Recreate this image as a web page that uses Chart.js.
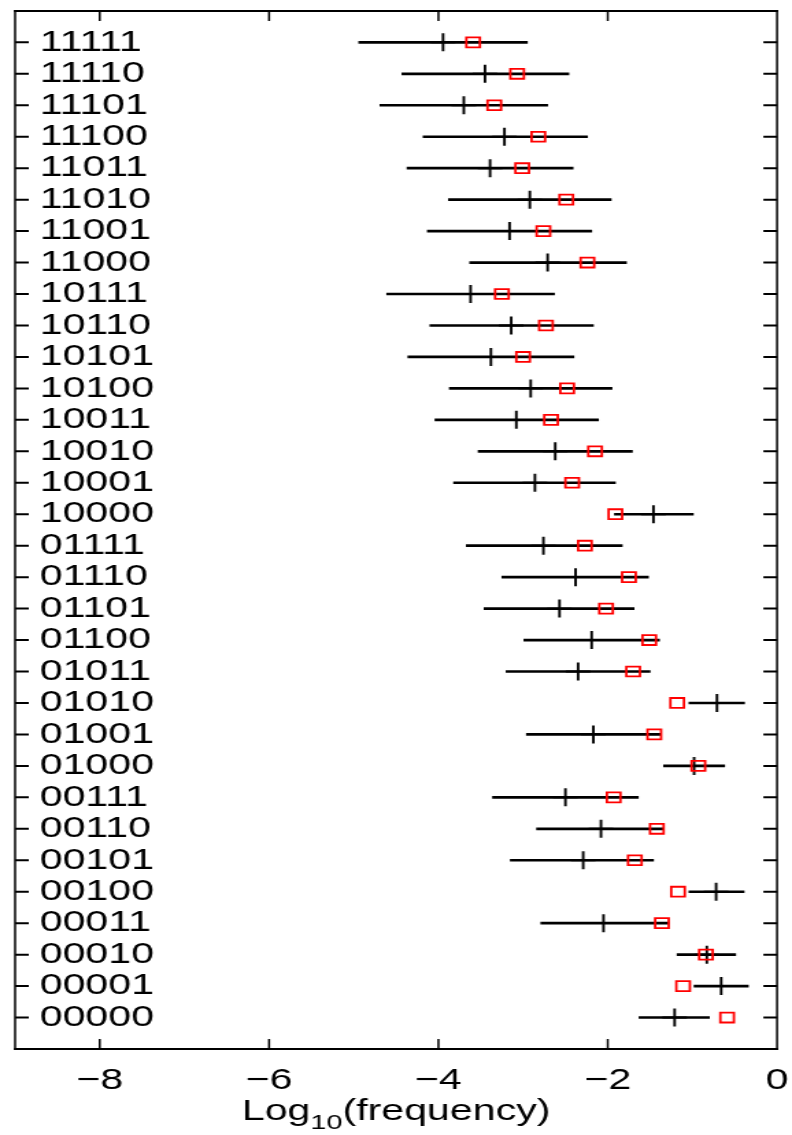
<!DOCTYPE html>
<html>
<head>
<meta charset="utf-8">
<script src="https://cdn.jsdelivr.net/npm/chart.js@4"></script>
<style>
  html, body { margin: 0; padding: 0; background: #fff; }
  /* the source figure is squeezed horizontally, so the canvas is drawn narrow and stretched */
  #chart { display: block; width: 792px; height: 1135px; }
</style>
</head>
<body>
<canvas id="chart" width="578" height="1135" style="width:792px;height:1135px"></canvas>
<script>
// Rows from bottom (00000) to top (11111).
const patterns = [
  '00000', '00001', '00010', '00011', '00100', '00101', '00110', '00111',
  '01000', '01001', '01010', '01011', '01100', '01101', '01110', '01111',
  '10000', '10001', '10010', '10011', '10100', '10101', '10110', '10111',
  '11000', '11001', '11010', '11011', '11100', '11101', '11110', '11111'
];

// black error bars: low / high end, and the "+" estimate
const lowEnd = [
  -1.63, -0.98, -1.18, -2.79, -1.04, -3.15, -2.84, -3.36,
  -1.34, -2.96, -1.04, -3.20, -2.99, -3.46, -3.25, -3.67,
  -1.92, -3.82, -3.53, -4.04, -3.87, -4.36, -4.10, -4.61,
  -3.63, -4.13, -3.88, -4.37, -4.18, -4.69, -4.43, -4.94
];
const highEnd = [
  -0.80, -0.34, -0.49, -1.28, -0.39, -1.46, -1.34, -1.64,
  -0.62, -1.37, -0.385, -1.50, -1.39, -1.69, -1.52, -1.83,
  -0.99, -1.91, -1.71, -2.11, -1.95, -2.40, -2.17, -2.63,
  -1.78, -2.19, -1.96, -2.41, -2.24, -2.71, -2.46, -2.95
];
const estimate = [
  -1.21, -0.66, -0.83, -2.05, -0.72, -2.29, -2.08, -2.50,
  -0.98, -2.17, -0.71, -2.35, -2.19, -2.57, -2.38, -2.76,
  -1.46, -2.86, -2.62, -3.08, -2.91, -3.38, -3.14, -3.62,
  -2.71, -3.16, -2.92, -3.39, -3.22, -3.70, -3.45, -3.945
];
// red squares
const observed = [
  -0.59, -1.11, -0.84, -1.36, -1.17, -1.68, -1.42, -1.93,
  -0.93, -1.45, -1.18, -1.70, -1.51, -2.02, -1.75, -2.27,
  -1.91, -2.42, -2.15, -2.67, -2.48, -3.00, -2.73, -3.25,
  -2.24, -2.76, -2.49, -3.01, -2.82, -3.34, -3.07, -3.59
];

const xTicks = [-8, -6, -4, -2, 0];
const xTitle = ['Log', '10', '(frequency)'];

const FONT = "'Liberation Sans', Arial, Helvetica, sans-serif";

function minusLabel(v) {
  return v < 0 ? '\u2212' + Math.abs(v) : String(v);
}

// frame with inward ticks on all four sides, MATLAB style
const framePlugin = {
  id: 'frame',
  afterDraw(chart) {
    const { ctx, chartArea: a, scales } = chart;
    const x = scales.x, y = scales.y;
    ctx.save();
    ctx.strokeStyle = '#000';
    ctx.lineCap = 'butt';

    ctx.lineWidth = 2;
    ctx.beginPath();
    ctx.moveTo(a.left - 0.75, a.top); ctx.lineTo(a.right + 0.75, a.top);
    ctx.moveTo(a.left - 0.75, a.bottom); ctx.lineTo(a.right + 0.75, a.bottom);
    patterns.forEach((p, i) => {
      const py = y.getPixelForValue(i);
      ctx.moveTo(a.left, py); ctx.lineTo(a.left + 10, py);
      ctx.moveTo(a.right, py); ctx.lineTo(a.right - 10, py);
    });
    ctx.stroke();

    ctx.lineWidth = 1.5;
    ctx.beginPath();
    ctx.moveTo(a.left, a.top - 1); ctx.lineTo(a.left, a.bottom + 1);
    ctx.moveTo(a.right, a.top - 1); ctx.lineTo(a.right, a.bottom + 1);
    xTicks.forEach(v => {
      const px = x.getPixelForValue(v);
      ctx.moveTo(px, a.bottom); ctx.lineTo(px, a.bottom - 10);
      ctx.moveTo(px, a.top); ctx.lineTo(px, a.top + 10);
    });
    ctx.stroke();

    // axis title with subscript
    ctx.fillStyle = '#000';
    ctx.textBaseline = 'alphabetic';
    ctx.textAlign = 'left';
    const big = '30px ' + FONT, small = '21px ' + FONT;
    ctx.font = big;
    const w1 = ctx.measureText(xTitle[0]).width;
    const w3 = ctx.measureText(xTitle[2]).width;
    ctx.font = small;
    const w2 = ctx.measureText(xTitle[1]).width;
    let tx = (a.left + a.right) / 2 - (w1 + w2 + w3) / 2;
    const base = 1120;
    ctx.font = big;
    ctx.fillText(xTitle[0], tx, base);
    tx += w1;
    ctx.font = small;
    ctx.fillText(xTitle[1], tx, base + 9);
    tx += w2;
    ctx.font = big;
    ctx.fillText(xTitle[2], tx, base);
    ctx.restore();
  }
};

new Chart(document.getElementById('chart'), {
  type: 'scatter',
  data: {
    datasets: [
      {
        label: 'observed',
        data: observed.map((v, i) => ({ x: v, y: i })),
        pointStyle: 'rect',
        pointRadius: 7,
        pointHoverRadius: 7,
        borderColor: '#ff0000',
        backgroundColor: 'rgba(0,0,0,0)',
        borderWidth: 1.8
      },
      {
        label: 'estimate',
        data: estimate.map((v, i) => ({ x: v, y: i })),
        pointStyle: 'cross',
        pointRadius: 9,
        pointHoverRadius: 9,
        borderColor: '#000',
        borderWidth: 1.9
      },
      {
        type: 'bar',
        label: 'range',
        indexAxis: 'y',
        data: lowEnd.map((v, i) => ({ x: [v, highEnd[i]], y: i })),
        backgroundColor: '#000',
        borderWidth: 0,
        barThickness: 2
      }
    ]
  },
  options: {
    responsive: false,
    animation: false,
    events: [],
    layout: { padding: { left: 11, right: 7, top: 10, bottom: 0 } },
    plugins: {
      legend: { display: false },
      tooltip: { enabled: false }
    },
    scales: {
      x: {
        type: 'linear',
        min: -9,
        max: 0,
        offset: false,
        grid: { display: false, offset: false },
        border: { display: false },
        afterBuildTicks: s => { s.ticks = xTicks.map(v => ({ value: v })); },
        afterFit: s => { s.height = 86; s.paddingLeft = 0; s.paddingRight = 0; },
        ticks: {
          color: '#000',
          padding: 6,
          maxRotation: 0,
          font: { family: FONT, size: 30 },
          callback: v => minusLabel(v)
        }
      },
      y: {
        type: 'linear',
        min: -1,
        max: 32,
        offset: false,
        grid: { display: false, offset: false },
        border: { display: false },
        afterBuildTicks: s => { s.ticks = patterns.map((p, i) => ({ value: i })); },
        afterFit: s => { s.width = 0; s.paddingTop = 0; s.paddingBottom = 0; },
        ticks: {
          mirror: true,
          padding: 18,
          color: '#000',
          autoSkip: false,
          font: { family: FONT, size: 30 },
          callback: v => patterns[v] ?? ''
        }
      }
    }
  },
  plugins: [framePlugin]
});
</script>
</body>
</html>
